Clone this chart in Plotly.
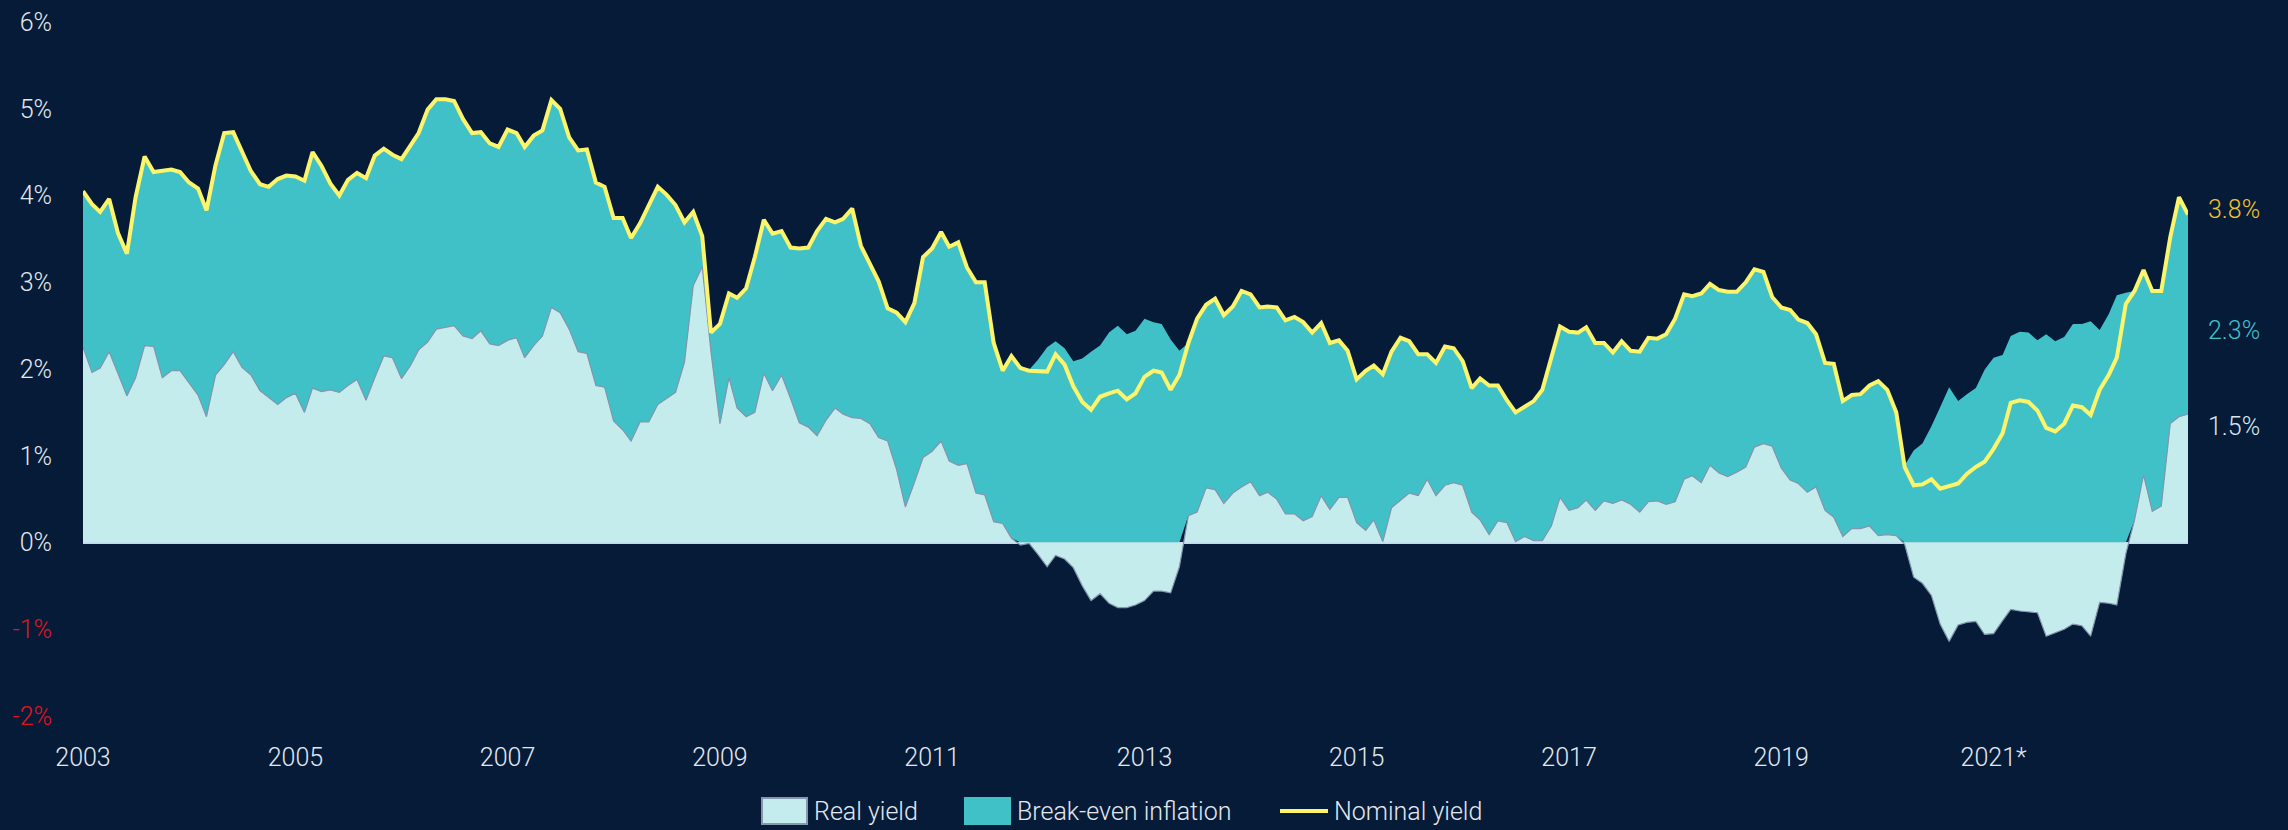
import numpy as np
import pandas as pd
import plotly.graph_objects as go

# ---------------- data (monthly, Jan 2003 - Nov 2022) ----------------
start_month = "2003-01-01"

nominal_yield = [
    4.05, 3.90, 3.81, 3.96, 3.57, 3.33, 3.98, 4.45, 4.27, 4.29, 4.30, 4.27,   # 2003
    4.15, 4.08, 3.83, 4.35, 4.72, 4.73, 4.50, 4.28, 4.13, 4.10, 4.19, 4.23,   # 2004
    4.22, 4.17, 4.50, 4.34, 4.14, 4.00, 4.18, 4.26, 4.20, 4.46, 4.54, 4.47,   # 2005
    4.42, 4.57, 4.72, 4.99, 5.11, 5.11, 5.09, 4.88, 4.72, 4.73, 4.60, 4.56,   # 2006
    4.76, 4.72, 4.56, 4.69, 4.75, 5.10, 5.00, 4.67, 4.52, 4.53, 4.15, 4.10,   # 2007
    3.74, 3.74, 3.51, 3.68, 3.88, 4.10, 4.01, 3.89, 3.69, 3.81, 3.53, 2.42,   # 2008
    2.52, 2.87, 2.82, 2.93, 3.29, 3.72, 3.56, 3.59, 3.40, 3.39, 3.40, 3.59,   # 2009
    3.73, 3.69, 3.73, 3.85, 3.42, 3.20, 3.01, 2.70, 2.65, 2.54, 2.76, 3.29,   # 2010
    3.39, 3.58, 3.41, 3.46, 3.17, 3.00, 3.00, 2.30, 1.98, 2.15, 2.01, 1.98,   # 2011
    1.97, 1.97, 2.17, 2.05, 1.80, 1.62, 1.53, 1.68, 1.72, 1.75, 1.65, 1.72,   # 2012
    1.91, 1.98, 1.96, 1.76, 1.93, 2.30, 2.58, 2.74, 2.81, 2.62, 2.72, 2.90,   # 2013
    2.86, 2.71, 2.72, 2.71, 2.56, 2.60, 2.54, 2.42, 2.53, 2.30, 2.33, 2.21,   # 2014
    1.88, 1.98, 2.04, 1.94, 2.20, 2.36, 2.32, 2.17, 2.17, 2.07, 2.26, 2.24,   # 2015
    2.09, 1.78, 1.89, 1.81, 1.81, 1.64, 1.50, 1.56, 1.63, 1.76, 2.14, 2.49,   # 2016
    2.43, 2.42, 2.48, 2.30, 2.30, 2.19, 2.32, 2.21, 2.20, 2.36, 2.35, 2.40,   # 2017
    2.58, 2.86, 2.84, 2.87, 2.98, 2.91, 2.89, 2.89, 3.00, 3.15, 3.12, 2.83,   # 2018
    2.71, 2.68, 2.57, 2.53, 2.40, 2.07, 2.06, 1.63, 1.70, 1.71, 1.81, 1.86,   # 2019
    1.76, 1.50, 0.87, 0.66, 0.67, 0.73, 0.62, 0.65, 0.68, 0.79, 0.87, 0.93,   # 2020
    1.08, 1.26, 1.61, 1.64, 1.62, 1.52, 1.32, 1.28, 1.37, 1.58, 1.56, 1.47,   # 2021
    1.76, 1.93, 2.13, 2.75, 2.90, 3.14, 2.90, 2.90, 3.52, 3.98, 3.78,         # 2022
]

real_yield = [
    2.25, 1.96, 2.01, 2.20, 1.95, 1.69, 1.90, 2.27, 2.26, 1.90, 1.98, 1.98,   # 2003
    1.84, 1.70, 1.45, 1.93, 2.05, 2.20, 2.02, 1.93, 1.75, 1.67, 1.59, 1.67,   # 2004
    1.72, 1.50, 1.78, 1.74, 1.76, 1.73, 1.81, 1.88, 1.64, 1.90, 2.15, 2.13,   # 2005
    1.89, 2.04, 2.22, 2.31, 2.46, 2.48, 2.50, 2.38, 2.35, 2.44, 2.29, 2.27,   # 2006
    2.33, 2.36, 2.13, 2.27, 2.38, 2.71, 2.65, 2.46, 2.20, 2.18, 1.81, 1.79,   # 2007
    1.40, 1.30, 1.17, 1.39, 1.39, 1.59, 1.66, 1.73, 2.08, 2.96, 3.18, 2.20,   # 2008
    1.37, 1.90, 1.55, 1.45, 1.50, 1.95, 1.75, 1.93, 1.66, 1.38, 1.33, 1.23,   # 2009
    1.41, 1.55, 1.48, 1.44, 1.43, 1.37, 1.21, 1.17, 0.84, 0.41, 0.69, 0.98,   # 2010
    1.05, 1.17, 0.94, 0.89, 0.91, 0.57, 0.55, 0.24, 0.22, 0.05, -0.03, -0.01, # 2011
    -0.14, -0.28, -0.15, -0.19, -0.29, -0.50, -0.67, -0.59, -0.70, -0.75, -0.75, -0.72,  # 2012
    -0.67, -0.56, -0.56, -0.58, -0.28, 0.31, 0.35, 0.63, 0.61, 0.45, 0.57, 0.64,         # 2013
    0.70, 0.54, 0.58, 0.50, 0.33, 0.33, 0.25, 0.30, 0.54, 0.38, 0.52, 0.52,   # 2014
    0.23, 0.14, 0.26, 0.01, 0.40, 0.49, 0.57, 0.54, 0.73, 0.54, 0.66, 0.69,   # 2015
    0.66, 0.35, 0.26, 0.09, 0.25, 0.23, 0.01, 0.07, 0.02, 0.02, 0.19, 0.52,   # 2016
    0.37, 0.40, 0.49, 0.37, 0.48, 0.45, 0.49, 0.44, 0.35, 0.47, 0.48, 0.44,   # 2017
    0.47, 0.73, 0.77, 0.69, 0.89, 0.80, 0.76, 0.81, 0.87, 1.10, 1.14, 1.11,   # 2018
    0.86, 0.72, 0.68, 0.58, 0.64, 0.37, 0.29, 0.07, 0.16, 0.16, 0.19, 0.08,   # 2019
    0.09, 0.08, -0.02, -0.40, -0.47, -0.61, -0.94, -1.14, -0.95, -0.92, -0.91, -1.06,    # 2020
    -1.05, -0.90, -0.77, -0.79, -0.80, -0.81, -1.08, -1.04, -1.00, -0.94, -0.96, -1.08,  # 2021
    -0.69, -0.70, -0.72, -0.13, 0.26, 0.78, 0.36, 0.42, 1.37, 1.45, 1.48,                # 2022
]

tick_years = ["2003", "2005", "2007", "2009", "2011", "2013", "2015", "2017", "2019", "2021"]
tick_labels = ["2003", "2005", "2007", "2009", "2011", "2013", "2015", "2017", "2019", "2021*"]
y_ticks = [-2, -1, 0, 1, 2, 3, 4, 5, 6]
end_labels = ["3.8%", "2.3%", "1.5%"]
legend_names = ["Real yield", "Break-even inflation", "Nominal yield"]

# ---------------- derived series ----------------
months = pd.date_range(start_month, periods=len(nominal_yield), freq="MS")
nom = np.array(nominal_yield)
real = np.array(real_yield)
breakeven = nom - real
be_base = np.maximum(real, 0)
be_top = be_base + breakeven

# ---------------- style ----------------
BG = "#061b38"
TEAL = "#40c1c8"
LIGHT = "#c5ecec"
YELLOW = "#fcf46a"
OUTLINE = "#8596ad"
TEXT = "#e3e8ef"
RED = "#e0141c"
FONT = "Roboto"

W, H = 2288, 830
ML, MR, MT, MB = 83, 100, 22, 114
PW, PH = W - ML - MR, H - MT - MB


def px(xpix):
    return (xpix - ML) / PW


def py(ypix):
    return (H - MB - ypix) / PH


fig = go.Figure()
fig.add_trace(go.Scatter(x=months, y=be_base, mode="lines",
                         line=dict(width=0, color="rgba(0,0,0,0)"),
                         showlegend=False, hoverinfo="skip"))
fig.add_trace(go.Scatter(x=months, y=be_top, mode="lines", fill="tonexty",
                         fillcolor=TEAL, line=dict(width=0, color=TEAL),
                         name=legend_names[1]))
fig.add_trace(go.Scatter(x=months, y=real, mode="lines", fill="tozeroy",
                         fillcolor=LIGHT, line=dict(width=1.2, color=OUTLINE),
                         name=legend_names[0]))
fig.add_trace(go.Scatter(x=months, y=nom, mode="lines",
                         line=dict(width=4, color=YELLOW),
                         name=legend_names[2]))

ytext = []
for v in y_ticks:
    if v < 0:
        ytext.append(f'<span style="color:{RED}">{v}%</span>')
    else:
        ytext.append(f"{v}%")

tickfont = dict(family=FONT, size=25, color=TEXT, weight=300)

fig.update_layout(
    width=W, height=H,
    margin=dict(l=ML, r=MR, t=MT, b=MB, autoexpand=False),
    paper_bgcolor=BG, plot_bgcolor=BG,
    font=dict(family=FONT, size=25, color=TEXT, weight=300),
    showlegend=False,
    xaxis=dict(type="date", range=[months[0], months[-1]],
               tickvals=[pd.Timestamp(f"{y}-01-01") for y in tick_years],
               ticktext=tick_labels, showgrid=False, zeroline=False,
               showline=False, ticks="", ticklabelstandoff=24,
               tickfont=tickfont),
    yaxis=dict(range=[-2, 6], tickvals=y_ticks, ticktext=ytext,
               showgrid=False, zeroline=True, zerolinecolor="#c8d5f2",
               zerolinewidth=2, layer="above traces", ticks="",
               ticklabelstandoff=30, tickfont=tickfont),
)

# right-hand value labels
label_pos = [3.84, 2.44, 1.34]
label_colors = ["#f2c12e", TEAL, "#d4e8ec"]
for txt, yp, c in zip(end_labels, label_pos, label_colors):
    fig.add_annotation(x=1, xref="paper", y=yp, yref="y", text=txt,
                       showarrow=False, xanchor="left", xshift=18,
                       font=dict(family=FONT, size=25, color=c, weight=300))

# custom legend (bottom centre)
LEG_Y = 811
swatches = [  # (x0, x1, fill, border)
    (762, 807, LIGHT, OUTLINE),
    (965, 1010, TEAL, TEAL),
]
for (x0, x1, fc, bc) in swatches:
    fig.add_shape(type="rect", xref="paper", yref="paper",
                  x0=px(x0), x1=px(x1), y0=py(LEG_Y + 13), y1=py(LEG_Y - 13),
                  fillcolor=fc, line=dict(color=bc, width=2), layer="above")
fig.add_shape(type="line", xref="paper", yref="paper",
              x0=px(1280), x1=px(1328), y0=py(LEG_Y), y1=py(LEG_Y),
              line=dict(color=YELLOW, width=4), layer="above")
for name, xstart in zip(legend_names, [812, 1015, 1332]):
    fig.add_annotation(x=px(xstart), xref="paper", y=py(LEG_Y), yref="paper",
                       text=name, showarrow=False, xanchor="left", yanchor="middle",
                       font=dict(family=FONT, size=25, color=TEXT, weight=300))

fig.write_html("out.html")
